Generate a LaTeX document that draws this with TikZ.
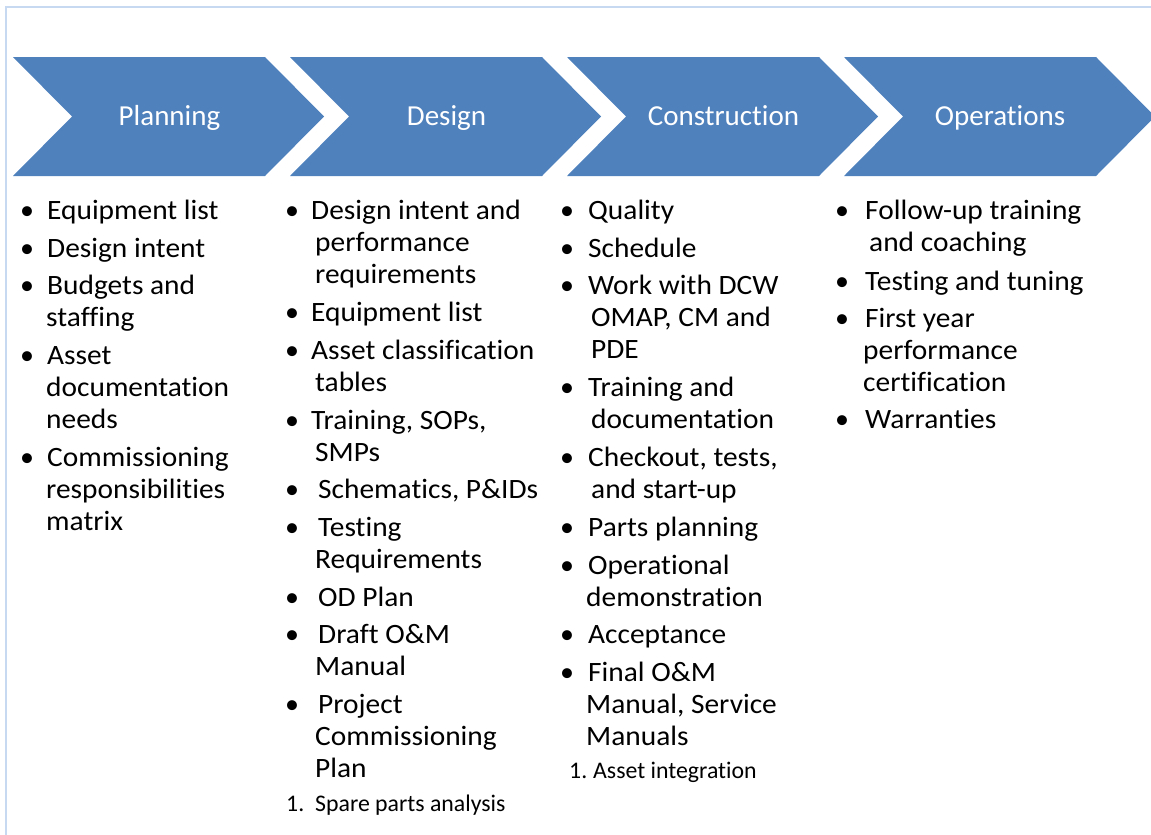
\documentclass[tikz,border=0pt]{standalone}
\usepackage{fontspec}
\setmainfont{Carlito}[Ligatures=NoCommon]
\newfontfamily\listfont{Carlito}[FakeStretch=1.05,Ligatures=NoCommon]
\definecolor{chevblue}{HTML}{4F81BD}
\definecolor{frameblue}{HTML}{C6D9F1}
\tikzset{
  chev/.style={fill=chevblue},
  head/.style={anchor=base, text=white, font=\fontsize{29}{35}\selectfont},
  item/.style={anchor=base west, font=\listfont\fontsize{28}{32}\selectfont},
  bul/.style={anchor=base, font=\fontsize{28}{32}\selectfont},
  num/.style={anchor=base west, font=\fontsize{23.8}{28}\selectfont}
}
\begin{document}
\begin{tikzpicture}[x=1pt,y=-1pt]
\tikzstyle{every node}+=[inner sep=0pt]
\useasboundingbox (0,0) rectangle (1151,835);
\draw [frameblue, line width=2pt] (6,835) -- (6,7) -- (1151,7);
% chevrons
\fill [chev] (13,57) -- (265,57) -- (324,116.5) -- (265,176) -- (13,176) -- (72,116.5) -- cycle;
\fill [chev] (290,57) -- (542,57) -- (601,116.5) -- (542,176) -- (290,176) -- (349,116.5) -- cycle;
\fill [chev] (567,57) -- (819,57) -- (878,116.5) -- (819,176) -- (567,176) -- (626,116.5) -- cycle;
\fill [chev] (844,57) -- (1096,57) -- (1155,116.5) -- (1096,176) -- (844,176) -- (903,116.5) -- cycle;
\node [head] (planning) at (169.5,125) {Planning};
\node [head] (design) at (446.5,125) {Design};
\node [head] (construction) at (723.5,125) {Construction};
\node [head] (operations) at (1000,125) {Operations};
% planning
\node [bul] (pb1) at (27,219) {\textbullet};
\node [bul] (pb2) at (27,257) {\textbullet};
\node [bul] (pb3) at (27,294) {\textbullet};
\node [bul] (pb4) at (27,364) {\textbullet};
\node [bul] (pb5) at (27,466) {\textbullet};
\node [item] (p1) at (47,219) {Equipment list};
\node [item] (p2) at (47,257) {Design intent};
\node [item] (p3) at (47,294) {Budgets and};
\node [item] (p4) at (46,326) {staffing};
\node [item] (p5) at (47,364) {Asset};
\node [item] (p6) at (46,396) {documentation};
\node [item] (p7) at (46,428) {needs};
\node [item] (p8) at (47,466) {Commissioning};
\node [item] (p9) at (46,498) {responsibilities};
\node [item] (p10) at (46,530) {matrix};
% design
\node [bul] (db1) at (292,219) {\textbullet};
\node [bul] (db2) at (292,321) {\textbullet};
\node [bul] (db3) at (292,359) {\textbullet};
\node [bul] (db4) at (292,429) {\textbullet};
\node [bul] (db5) at (292,498) {\textbullet};
\node [bul] (db6) at (292,536) {\textbullet};
\node [bul] (db7) at (292,606) {\textbullet};
\node [bul] (db8) at (292,643) {\textbullet};
\node [bul] (db9) at (292,713) {\textbullet};
\node [item] (d1) at (311,219) {Design intent and};
\node [item] (d2) at (315,251) {performance};
\node [item] (d3) at (315,283) {requirements};
\node [item] (d4) at (311,321) {Equipment list};
\node [item] (d5) at (311,359) {Asset classification};
\node [item] (d6) at (315,391) {tables};
\node [item] (d7) at (311,429) {Training, SOPs,};
\node [item] (d8) at (315,461) {SMPs};
\node [item] (d9) at (318,498) {Schematics, P\&IDs};
\node [item] (d10) at (318,536) {Testing};
\node [item] (d11) at (315,568) {Requirements};
\node [item] (d12) at (318,606) {OD Plan};
\node [item] (d13) at (318,643) {Draft O\&M};
\node [item] (d14) at (315,675) {Manual};
\node [item] (d15) at (318,713) {Project};
\node [item] (d16) at (315,745) {Commissioning};
\node [item] (d17) at (315,777) {Plan};
\node [num] (dn) at (286,811) {1.};
\node [num] (d18) at (315,811) {Spare parts analysis};
% construction
\node [bul] (cb1) at (567,219) {\textbullet};
\node [bul] (cb2) at (567,257) {\textbullet};
\node [bul] (cb3) at (567,294) {\textbullet};
\node [bul] (cb4) at (567,396) {\textbullet};
\node [bul] (cb5) at (567,466) {\textbullet};
\node [bul] (cb6) at (567,536) {\textbullet};
\node [bul] (cb7) at (567,574) {\textbullet};
\node [bul] (cb8) at (567,643) {\textbullet};
\node [bul] (cb9) at (567,681) {\textbullet};
\node [item] (c1) at (588,219) {Quality};
\node [item] (c2) at (588,257) {Schedule};
\node [item] (c3) at (588,294) {Work with DCW};
\node [item] (c4) at (591,326) {OMAP, CM and};
\node [item] (c5) at (591,358) {PDE};
\node [item] (c6) at (588,396) {Training and};
\node [item] (c7) at (591,428) {documentation};
\node [item] (c8) at (588,466) {Checkout, tests,};
\node [item] (c9) at (591,498) {and start-up};
\node [item] (c10) at (588,536) {Parts planning};
\node [item] (c11) at (588,574) {Operational};
\node [item] (c12) at (586,606) {demonstration};
\node [item] (c13) at (588,643) {Acceptance};
\node [item] (c14) at (588,681) {Final O\&M};
\node [item] (c15) at (586,713) {Manual, Service};
\node [item] (c16) at (586,745) {Manuals};
\node [num] (cn) at (569,778) {1.};
\node [num] (c17) at (593,778) {Asset integration};
% operations
\node [bul] (ob1) at (842,219) {\textbullet};
\node [bul] (ob2) at (842,290) {\textbullet};
\node [bul] (ob3) at (842,327) {\textbullet};
\node [bul] (ob4) at (842,428) {\textbullet};
\node [item] (o1) at (865,219) {Follow-up training};
\node [item] (o2) at (869,251) {and coaching};
\node [item] (o3) at (865,290) {Testing and tuning};
\node [item] (o4) at (865,327) {First year};
\node [item] (o5) at (863,359) {performance};
\node [item] (o6) at (863,391) {certification};
\node [item] (o7) at (865,428) {Warranties};
\end{tikzpicture}
\end{document}
